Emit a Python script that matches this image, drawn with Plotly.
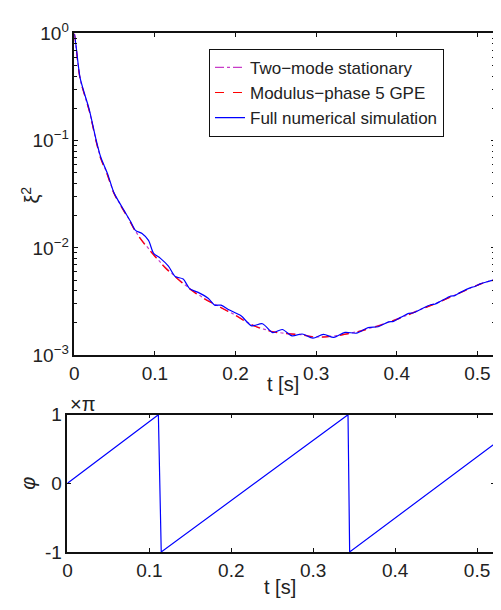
import plotly.graph_objects as go

# page is 501x610; the html body has an 8px default margin, so the figure
# itself is drawn 8px in from the top-left corner
PAGE_W, PAGE_H = 501, 610
OFF = 8
W, H = PAGE_W - OFF, PAGE_H - OFF
FONT = "Liberation Sans, Arial, sans-serif"


def px(xp):
    return (xp - OFF) / W


def py(yp):
    return 1 - (yp - OFF) / H


# ---- data: squeezing parameter xi^2 (log10 values) ----
t_smooth = [0, 0.002, 0.007, 0.0125, 0.0184, 0.0274, 0.0328, 0.040, 0.049, 0.057,
            0.0676, 0.076, 0.086, 0.100, 0.1126, 0.125, 0.135, 0.147, 0.160, 0.182,
            0.2007, 0.221, 0.248, 0.2826, 0.299, 0.3235, 0.348, 0.3726, 0.405,
            0.430, 0.4545, 0.479, 0.5037, 0.522]
log_gpe = [0, -0.12, -0.42, -0.57, -0.72, -1.02, -1.17, -1.30, -1.49, -1.60,
           -1.737, -1.85, -1.955, -2.08, -2.185, -2.27, -2.334, -2.405, -2.47, -2.558,
           -2.633, -2.722, -2.785, -2.812, -2.832, -2.821, -2.788, -2.738, -2.653,
           -2.575, -2.50, -2.418, -2.338, -2.297]
log_twomode = [0, -0.12, -0.42, -0.57, -0.72, -1.015, -1.165, -1.295, -1.485, -1.595,
               -1.73, -1.845, -1.95, -2.075, -2.18, -2.265, -2.33, -2.40, -2.465, -2.555,
               -2.63, -2.718, -2.782, -2.81, -2.83, -2.82, -2.786, -2.735, -2.65,
               -2.572, -2.498, -2.416, -2.336, -2.296]

t_full = [0, 0.002, 0.007, 0.0125, 0.0184, 0.0274, 0.0328, 0.041, 0.049, 0.0532,
          0.0614, 0.0696, 0.0758, 0.084, 0.092, 0.0983, 0.1065, 0.1167, 0.125, 0.135,
          0.143, 0.1536, 0.166, 0.174, 0.182, 0.1925, 0.2068, 0.220, 0.2334, 0.246,
          0.258, 0.270, 0.2826, 0.296, 0.309, 0.322, 0.3358, 0.350, 0.3645, 0.377,
          0.390, 0.396, 0.405, 0.415, 0.421, 0.430, 0.442, 0.447, 0.4545, 0.467,
          0.472, 0.479, 0.492, 0.497, 0.5037, 0.515, 0.522]
log_full = [0, -0.11, -0.409, -0.56, -0.707, -1.005, -1.155, -1.305, -1.484, -1.543,
            -1.648, -1.752, -1.836, -1.866, -1.93, -2.05, -2.095, -2.17, -2.266, -2.29,
            -2.38, -2.415, -2.47, -2.534, -2.534, -2.58, -2.633, -2.727, -2.707, -2.79,
            -2.761, -2.82, -2.803, -2.842, -2.806, -2.835, -2.788, -2.795, -2.743, -2.735,
            -2.69, -2.685, -2.648, -2.61, -2.605, -2.572, -2.53, -2.525, -2.498, -2.45,
            -2.445, -2.415, -2.37, -2.36, -2.335, -2.31, -2.295]

# ---- data: phase (in units of pi) ----
t_phase = [0, 0.111, 0.1145, 0.3425, 0.3445, 0.522]
phase = [0, 1, -1, 1, -1, 0.58]

x_ticks = [0, 0.1, 0.2, 0.3, 0.4, 0.5]
x_tick_text = ["0", "0.1", "0.2", "0.3", "0.4", "0.5"]
decades = [1e-3, 1e-2, 1e-1, 1]
decade_text = ["10<sup>\u22123</sup>", "10<sup>\u22122</sup>", "10<sup>\u22121</sup>", "10<sup>0</sup>"]
phase_ticks = [-1, 0, 1]
phase_tick_text = ["-1", "0", "1"]
minor_vals = [d * m for d in decades[:-1] for m in range(2, 10)]

fig = go.Figure()
fig.add_trace(go.Scatter(x=t_smooth, y=[10 ** v for v in log_twomode], mode="lines",
                         name="Two\u2212mode stationary",
                         line=dict(color="#c83cc8", width=1.2, dash="dashdot", shape="spline"),
                         xaxis="x", yaxis="y"))
fig.add_trace(go.Scatter(x=t_smooth, y=[10 ** v for v in log_gpe], mode="lines",
                         name="Modulus\u2212phase 5 GPE",
                         line=dict(color="#ff0000", width=1.2, dash="dash", shape="spline"),
                         xaxis="x", yaxis="y"))
fig.add_trace(go.Scatter(x=t_full, y=[10 ** v for v in log_full], mode="lines",
                         name="Full numerical simulation",
                         line=dict(color="#0000ff", width=1.2, shape="spline", smoothing=0.8),
                         xaxis="x", yaxis="y"))
fig.add_trace(go.Scatter(x=t_phase, y=phase, mode="lines", showlegend=False,
                         line=dict(color="#0000ff", width=1.2),
                         xaxis="x2", yaxis="y2"))

axis_common = dict(showline=True, linecolor="#111", linewidth=1.5, mirror="allticks",
                   ticks="inside", tickcolor="#111", ticklen=4, tickwidth=1,
                   showgrid=False, zeroline=False,
                   tickfont=dict(family=FONT, size=19, color="#222"))

fig.update_layout(
    width=W, height=H, margin=dict(l=0, r=0, t=0, b=0),
    paper_bgcolor="white", plot_bgcolor="white",
    font=dict(family=FONT, color="#222"),
    xaxis=dict(domain=[px(70), px(495)], range=[0, 0.522], anchor="y",
               tickvals=x_ticks, ticktext=x_tick_text, **axis_common),
    yaxis=dict(domain=[py(356), py(21)], type="log", range=[-3, 0], anchor="x",
               tickvals=decades, ticktext=decade_text,
               minor=dict(tickvals=minor_vals, ticks="inside", ticklen=3,
                          tickcolor="#111", showgrid=False),
               **axis_common),
    xaxis2=dict(domain=[px(63), px(495)], range=[0, 0.522], anchor="y2",
                tickvals=x_ticks, ticktext=x_tick_text, **axis_common),
    yaxis2=dict(domain=[py(561), py(418)], range=[-1, 1], anchor="x2",
                tickvals=phase_ticks, ticktext=phase_tick_text, **axis_common),
    legend=dict(x=px(206), y=py(37), xanchor="left", yanchor="top",
                bgcolor="white", bordercolor="#111", borderwidth=1,
                font=dict(family=FONT, size=17, color="#222"),
                tracegroupgap=0, itemwidth=30),
    showlegend=True,
)

ann = dict(xref="paper", yref="paper", showarrow=False,
           font=dict(family=FONT, size=20, color="#222"))
fig.add_annotation(x=px(281), y=py(386), text="t [s]", xanchor="center", yanchor="middle", **ann)
fig.add_annotation(x=px(278), y=py(598), text="t [s]", xanchor="center", yanchor="middle", **ann)
fig.add_annotation(x=px(64), y=py(407), text="\u00d7\u03c0", xanchor="left", yanchor="middle", **ann)
fig.add_annotation(x=px(26), y=py(189), text="\u03be<sup>2</sup>", textangle=-90,
                   xanchor="center", yanchor="middle", **ann)
fig.add_annotation(x=px(23), y=py(489), text="<i>\u03c6</i>", textangle=-90,
                   xanchor="center", yanchor="middle", **ann)

fig.write_html("out.html")
